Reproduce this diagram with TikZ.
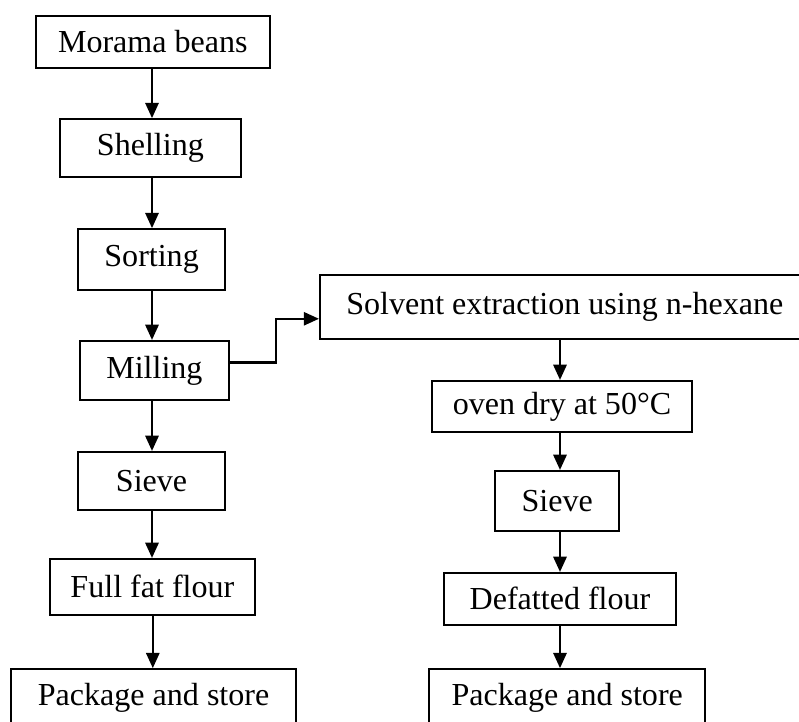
\documentclass[tikz,border=0pt]{standalone}
\usepackage{fontspec}
\setmainfont{Liberation Serif}
\usetikzlibrary{arrows.meta,positioning,calc}

\begin{document}
\begin{tikzpicture}[x=1cm, y=1cm, >={Triangle[length=3.8mm, width=3.3mm]},
  stage/.style={draw, line width=1.2pt, inner sep=0pt,
    font=\fontsize{22.8}{26}\selectfont, align=center},
  flow/.style={->, line width=1.6pt}]
\useasboundingbox (0,0) rectangle (19.975,18.05);
% left column: full fat flour
\node[stage, minimum width=5.85cm, minimum height=1.3cm] (beans) at (3.82,17.0) {Morama beans};
\node[stage, minimum width=4.53cm, minimum height=1.45cm] (shell) at (3.76,14.35) {Shelling};
\node[stage, minimum width=3.68cm, minimum height=1.53cm] (sort) at (3.79,11.56) {Sorting};
\node[stage, minimum width=3.73cm, minimum height=1.48cm] (mill) at (3.86,8.79) {Milling};
\node[stage, minimum width=3.68cm, minimum height=1.45cm] (sieveL) at (3.79,6.03) {Sieve};
\node[stage, minimum width=5.13cm, minimum height=1.4cm] (full) at (3.81,3.38) {Full fat flour};
\node[stage, minimum width=7.13cm, minimum height=1.45cm] (packL) at (3.84,0.6) {Package and store};
% right column: defatted flour
\node[stage, minimum width=12.25cm, minimum height=1.6cm] (solv) at (14.12,10.38) {Solvent extraction using n-hexane};
\node[stage, minimum width=6.5cm, minimum height=1.28cm] (oven) at (14.05,7.89) {oven dry at 50°C};
\node[stage, minimum width=3.1cm, minimum height=1.5cm] (sieveR) at (13.93,5.53) {Sieve};
\node[stage, minimum width=5.8cm, minimum height=1.3cm] (defat) at (14.0,3.08) {Defatted flour};
\node[stage, minimum width=6.9cm, minimum height=1.45cm] (packR) at (14.18,0.6) {Package and store};

\draw[flow] (beans.south -| 3.8,0) -- (shell.north -| 3.8,0);
\draw[flow] (shell.south -| 3.8,0) -- (sort.north -| 3.8,0);
\draw[flow] (sort.south -| 3.8,0) -- (mill.north -| 3.8,0);
\draw[flow] (mill.south -| 3.8,0) -- (sieveL.north -| 3.8,0);
\draw[flow] (sieveL.south -| 3.8,0) -- (full.north -| 3.8,0);
\draw[flow] (full.south -| 3.82,0) -- (packL.north -| 3.82,0);
\draw[flow] ([yshift=2mm]mill.east) -- ++(1.15,0) |- ([yshift=-3mm]solv.west);
\draw[flow] (solv.south -| 14.0,0) -- (oven.north -| 14.0,0);
\draw[flow] (oven.south -| 14.0,0) -- (sieveR.north -| 14.0,0);
\draw[flow] (sieveR.south -| 14.0,0) -- (defat.north -| 14.0,0);
\draw[flow] (defat.south -| 14.0,0) -- (packR.north -| 14.0,0);
\end{tikzpicture}
\end{document}
